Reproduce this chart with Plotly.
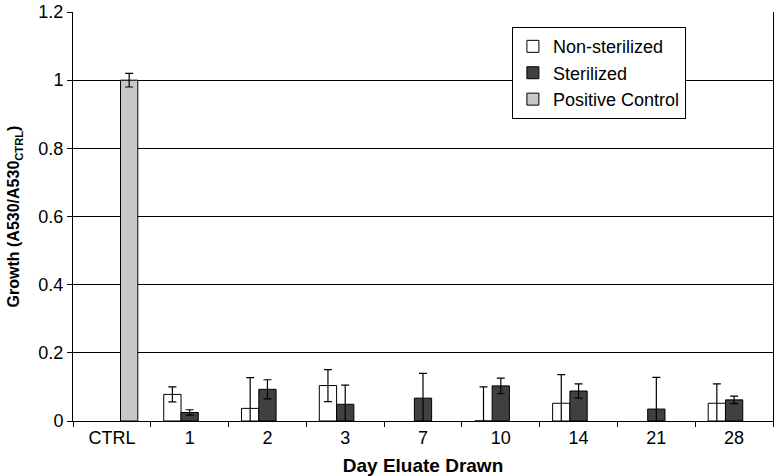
import plotly.graph_objects as go

categories = ["CTRL", "1", "2", "3", "7", "10", "14", "21", "28"]

nonsterilized = [None, 0.078, 0.037, 0.104, None, 0.0, 0.052, None, 0.052]
nonsterilized_err = [None, 0.022, 0.090, 0.047, None, 0.100, 0.084, None, 0.057]

sterilized = [None, 0.025, 0.093, 0.049, 0.067, 0.103, 0.088, 0.035, 0.062]
sterilized_err = [None, 0.008, 0.028, 0.056, 0.073, 0.023, 0.021, 0.093, 0.011]

positive = [1.0, None, None, None, None, None, None, None, None]
positive_err = [0.020, None, None, None, None, None, None, None, None]

y_ticks = [0, 0.2, 0.4, 0.6, 0.8, 1, 1.2]
y_labels = ["0", "0.2", "0.4", "0.6", "0.8", "1", "1.2"]

FONT = "Liberation Sans, Arial, sans-serif"

def err(a):
    return dict(type="data", array=a, visible=True, color="black", thickness=1.2, width=4)

fig = go.Figure()
fig.add_trace(go.Bar(name="Non-sterilized", x=categories, y=nonsterilized, error_y=err(nonsterilized_err),
                     marker=dict(color="white", line=dict(color="black", width=1))))
fig.add_trace(go.Bar(name="Sterilized", x=categories, y=sterilized, error_y=err(sterilized_err),
                     marker=dict(color="#404040", line=dict(color="black", width=1))))
fig.add_trace(go.Bar(name="Positive Control", x=categories, y=positive, error_y=err(positive_err),
                     marker=dict(color="#c8c8c8", line=dict(color="black", width=1))))

fig.update_layout(
    width=776, height=476,
    margin=dict(l=73, r=3, t=12, b=55, autoexpand=False),
    paper_bgcolor="white", plot_bgcolor="white",
    barmode="group", bargap=1/3, bargroupgap=0,
    font=dict(family=FONT, size=18, color="black"),
    legend=dict(x=0.627, y=0.963, xanchor="left", yanchor="top",
                bordercolor="black", borderwidth=1, bgcolor="white",
                font=dict(size=18), itemwidth=30, tracegroupgap=0),
    xaxis=dict(
        type="category", showline=True, linecolor="black", linewidth=1,
        ticks="outside", ticklen=5, tickcolor="black", tickson="boundaries",
        showgrid=False, mirror=False, automargin=False,
        title=dict(text="<b>Day Eluate Drawn</b>", font=dict(size=19), standoff=12),
        tickfont=dict(size=18),
    ),
    yaxis=dict(
        range=[0, 1.2], tickvals=y_ticks, ticktext=y_labels,
        showline=True, linecolor="black", linewidth=1, mirror=True,
        ticks="outside", ticklen=5, tickcolor="black", automargin=False,
        showgrid=True, gridcolor="black", gridwidth=1, zeroline=False,
        title=dict(text="<b>Growth (A530/A530<sub>CTRL</sub>)</b>", font=dict(size=16), standoff=14),
        tickfont=dict(size=18),
    ),
)

fig.write_html("out.html", config={"displayModeBar": False},
               post_script="document.body.style.margin='0';")
